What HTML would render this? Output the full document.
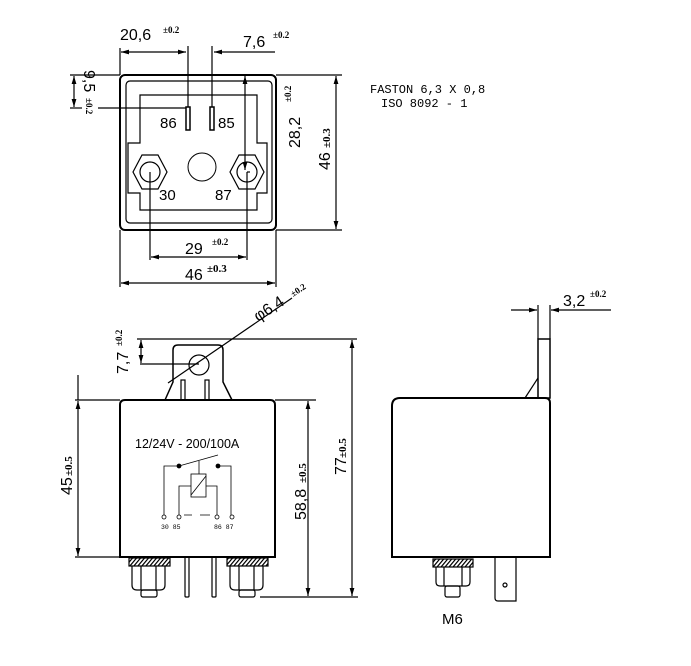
<!DOCTYPE html>
<html><head><style>
html,body{margin:0;padding:0;background:#fff;}
svg{display:block;font-family:"Liberation Sans",sans-serif;}
</style></head><body>
<svg width="691" height="666" viewBox="0 0 691 666" xmlns="http://www.w3.org/2000/svg">
<defs>
<marker id="a" viewBox="0 0 10 6" refX="10" refY="3" markerWidth="10" markerHeight="4" orient="auto-start-reverse"><path d="M0,0L10,3L0,6z" fill="#000"/></marker>
<pattern id="h" width="4" height="8" patternUnits="userSpaceOnUse" patternTransform="skewX(-40)"><rect width="4" height="8" fill="#fff"/><rect width="1.6" height="8" fill="#000"/></pattern>
</defs>
<g fill="none" stroke="#000" stroke-width="1.2">
<!-- TOP VIEW -->
<rect x="120" y="75" width="156" height="155" rx="5" stroke-width="2"/>
<rect x="126" y="81" width="146" height="142" rx="4"/>
<path d="M140,210V193H128V143H140V95H257V143H267V193H257V210Z"/>
<rect x="186" y="107" width="4" height="23" stroke-width="1.5"/>
<rect x="210" y="107" width="4" height="23" stroke-width="1.5"/>
<polygon points="133,172 142,155 158,155 167,172 158,189 142,189"/>
<circle cx="150" cy="172" r="10"/>
<polygon points="230,172 239,155 255,155 264,172 255,189 239,189"/>
<circle cx="247" cy="172" r="10"/>
<circle cx="202" cy="167" r="14" stroke-width="1"/>
<!-- dims top -->
<line x1="120" y1="48" x2="120" y2="75"/>
<line x1="188" y1="46" x2="188" y2="107"/>
<line x1="212" y1="46" x2="212" y2="107"/>
<line x1="121" y1="52" x2="186" y2="52" marker-start="url(#a)" marker-end="url(#a)"/>
<line x1="275" y1="52" x2="214" y2="52" marker-end="url(#a)"/>
<line x1="70" y1="75" x2="120" y2="75"/>
<line x1="98" y1="108" x2="186" y2="108"/>
<line x1="70" y1="108" x2="82" y2="108"/>
<line x1="74" y1="76" x2="74" y2="107" marker-start="url(#a)" marker-end="url(#a)"/>
<line x1="276" y1="75" x2="342" y2="75"/>
<line x1="276" y1="230" x2="342" y2="230"/>
<line x1="247" y1="172" x2="250" y2="172"/>
<line x1="245" y1="76" x2="245" y2="170" marker-start="url(#a)" marker-end="url(#a)"/>
<line x1="336" y1="76" x2="336" y2="229" marker-start="url(#a)" marker-end="url(#a)"/>
<line x1="150" y1="172" x2="150" y2="260"/>
<line x1="247" y1="172" x2="247" y2="260"/>
<line x1="151" y1="257" x2="246" y2="257" marker-start="url(#a)" marker-end="url(#a)"/>
<line x1="120" y1="230" x2="120" y2="287"/>
<line x1="276" y1="230" x2="276" y2="287"/>
<line x1="121" y1="283" x2="275" y2="283" marker-start="url(#a)" marker-end="url(#a)"/>
<!-- FRONT VIEW -->
<path d="M120,557V405Q120,400 125,400H270Q275,400 275,405V557Z" stroke-width="2"/>
<path d="M165,400L173,382V350Q173,345 178,345H218Q223,345 223,350V382L232,400" stroke-width="1.5"/>
<circle cx="199" cy="365" r="10"/>
<rect x="181" y="380" width="4" height="20"/>
<rect x="205" y="380" width="4" height="20"/>
<line x1="137" y1="339" x2="357" y2="339"/>
<line x1="140" y1="364" x2="199" y2="364"/>
<line x1="141" y1="340" x2="141" y2="363" marker-start="url(#a)" marker-end="url(#a)"/>
<line x1="168" y1="383" x2="292" y2="298"/>
<line x1="75" y1="400" x2="120" y2="400"/>
<line x1="75" y1="557" x2="120" y2="557"/>
<line x1="78" y1="375" x2="78" y2="400"/>
<line x1="78" y1="401" x2="78" y2="556" marker-start="url(#a)" marker-end="url(#a)"/>
<line x1="275" y1="400" x2="316" y2="400"/>
<line x1="308" y1="401" x2="308" y2="596" marker-start="url(#a)" marker-end="url(#a)"/>
<line x1="352" y1="340" x2="352" y2="596" marker-start="url(#a)" marker-end="url(#a)"/>
<line x1="260" y1="597" x2="358" y2="597"/>
<!-- schematic -->
<g stroke-width="0.8">
<path d="M164,515V466H179L218,455"/>
<path d="M218,466H231V515"/>
<rect x="191" y="474" width="15" height="23"/>
<line x1="191" y1="495" x2="206" y2="476"/>
<line x1="199" y1="461" x2="199" y2="474"/>
<path d="M191,486H179V515"/>
<path d="M206,486H217V515"/>
<path d="M184,515H192M200,515H210" />
<circle cx="164" cy="517" r="2"/><circle cx="179" cy="517" r="2"/><circle cx="217" cy="517" r="2"/><circle cx="232" cy="517" r="2"/>
</g>
<circle cx="179" cy="466" r="1.8" fill="#000"/><circle cx="218" cy="466" r="1.8" fill="#000"/>
<!-- nuts front -->
<rect x="129" y="558" width="41" height="8" fill="url(#h)"/>
<path d="M132,566V585Q132,590 137,590H160Q165,590 165,585V566M141,566V590M156,566V590"/>
<rect x="141" y="590" width="16" height="7" rx="2"/>
<rect x="227" y="558" width="41" height="8" fill="url(#h)"/>
<path d="M230,566V585Q230,590 235,590H258Q263,590 263,585V566M239,566V590M254,566V590"/>
<rect x="239" y="590" width="16" height="7" rx="2"/>
<rect x="185" y="557" width="4" height="40" rx="1"/>
<rect x="212" y="557" width="4" height="40" rx="1"/>
<!-- SIDE VIEW -->
<path d="M392,557V406Q392,398 400,398H545Q550,398 550,403V557Z" stroke-width="2"/>
<rect x="538" y="339" width="12" height="59" stroke-width="1.5"/>
<line x1="525" y1="398" x2="538" y2="378"/>
<line x1="538" y1="305" x2="538" y2="339"/>
<line x1="550" y1="305" x2="550" y2="339"/>
<line x1="511" y1="310" x2="537" y2="310" marker-end="url(#a)"/>
<line x1="611" y1="310" x2="551" y2="310" marker-end="url(#a)"/>
<rect x="433" y="559" width="40" height="8" fill="url(#h)"/>
<path d="M436,567V582Q436,586 440,586H466Q470,586 470,582V567M444,567V586M462,567V586"/>
<rect x="445" y="586" width="15" height="11" rx="2"/>
<path d="M495,557V598Q495,601 498,601H516V557"/>
<circle cx="505" cy="585" r="2"/>
</g>
<g fill="#000" font-size="16">
<text x="120" y="40">20,6</text><text x="163" y="33" font-size="9" font-family="Liberation Serif" font-weight="bold">±0.2</text>
<text x="243" y="47">7,6</text><text x="273" y="38" font-size="9" font-family="Liberation Serif" font-weight="bold">±0.2</text>
<text transform="translate(84,70) rotate(90)">9,5</text><text transform="translate(86,98) rotate(90)" font-size="9" font-family="Liberation Serif" font-weight="bold">±0.2</text>
<text x="160" y="128" font-size="15">86</text><text x="218" y="128" font-size="15">85</text>
<text x="159" y="200" font-size="15">30</text><text x="215" y="200" font-size="15">87</text>
<text transform="translate(300,148) rotate(-90)">28,2</text><text transform="translate(291,102) rotate(-90)" font-size="9" font-family="Liberation Serif" font-weight="bold">±0.2</text>
<text transform="translate(330,170) rotate(-90)">46</text><text transform="translate(330,148) rotate(-90)" font-size="11" font-family="Liberation Serif" font-weight="bold">±0.3</text>
<text x="185" y="254">29</text><text x="212" y="245" font-size="9" font-family="Liberation Serif" font-weight="bold">±0.2</text>
<text x="185" y="280">46</text><text x="207" y="272" font-size="11" font-family="Liberation Serif" font-weight="bold">±0.3</text>
<text x="370" y="93" font-size="12" font-family="Liberation Mono">FASTON 6,3 X 0,8</text>
<text x="381" y="107" font-size="12" font-family="Liberation Mono">ISO 8092 - 1</text>
<text transform="translate(258,322) rotate(-33)">φ6,4</text><text transform="translate(293,297) rotate(-33)" font-size="9" font-family="Liberation Serif" font-weight="bold">±0.2</text>
<text transform="translate(128,374) rotate(-90)">7,7</text><text transform="translate(122,346) rotate(-90)" font-size="9" font-family="Liberation Serif" font-weight="bold">±0.2</text>
<text x="135" y="448" font-size="12.5">12/24V - 200/100A</text>
<text x="161" y="529" font-size="6.5" font-family="Liberation Mono">30 85</text>
<text x="214" y="529" font-size="6.5" font-family="Liberation Mono">86 87</text>
<text transform="translate(72,495) rotate(-90)">45</text><text transform="translate(72,476) rotate(-90)" font-size="11" font-family="Liberation Serif" font-weight="bold">±0.5</text>
<text transform="translate(306,520) rotate(-90)">58,8</text><text transform="translate(306,483) rotate(-90)" font-size="11" font-family="Liberation Serif" font-weight="bold">±0.5</text>
<text transform="translate(346,475) rotate(-90)">77</text><text transform="translate(346,458) rotate(-90)" font-size="11" font-family="Liberation Serif" font-weight="bold">±0.5</text>
<text x="563" y="306">3,2</text><text x="590" y="297" font-size="9" font-family="Liberation Serif" font-weight="bold">±0.2</text>
<text x="442" y="624" font-size="15">M6</text>
</g>
</svg>
</body></html>
